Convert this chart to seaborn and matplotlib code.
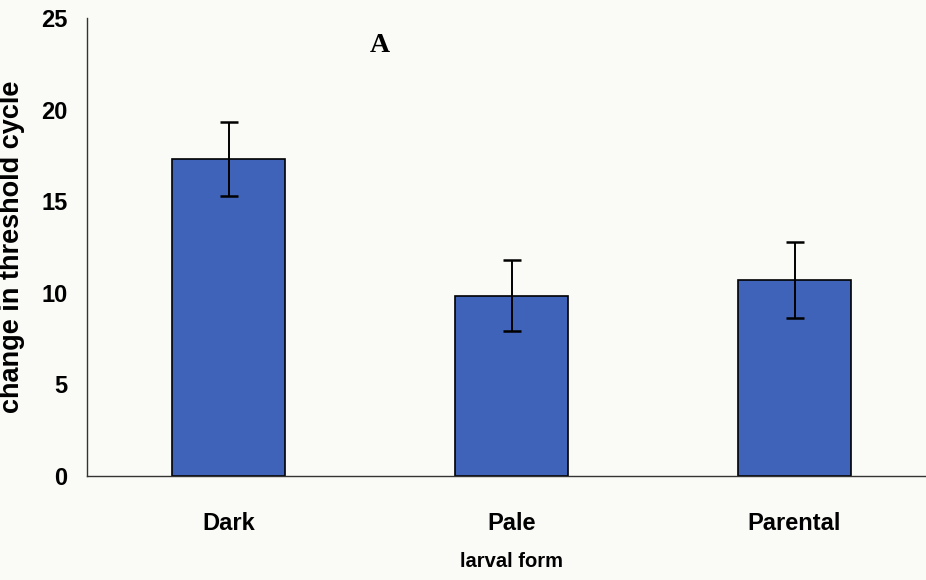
import matplotlib
matplotlib.use("Agg")
import matplotlib.pyplot as plt
import seaborn as sns
import pandas as pd

# Mean change in threshold cycle per larval form, with error bar half-widths
forms = ["Dark", "Pale", "Parental"]
means = [17.3, 9.85, 10.7]
errors = [2.0, 1.95, 2.05]
y_ticks = [0, 5, 10, 15, 20, 25]

sns.set_theme(style="white")
plt.rcParams["font.family"] = ["Liberation Sans", "DejaVu Sans"]
plt.rcParams["text.color"] = "black"
plt.rcParams["axes.labelcolor"] = "black"
plt.rcParams["xtick.color"] = "black"
plt.rcParams["ytick.color"] = "black"

bg = "#fafaf6"
bar_color = "#3f63b8"

fig = plt.figure(figsize=(9.26, 5.8), dpi=100, facecolor=bg)
ax = fig.add_axes([87 / 926, 104 / 580, 849 / 926, 458 / 580])
ax.set_facecolor(bg)

df = pd.DataFrame({"form": forms, "mean": means})
sns.barplot(data=df, x="form", y="mean", order=forms, color=bar_color,
            saturation=1, width=0.4, edgecolor="black", linewidth=1.2,
            errorbar=None, ax=ax)
ax.errorbar(range(len(forms)), means, yerr=errors, fmt="none",
            ecolor="black", elinewidth=1.4, capsize=6.5, capthick=1.8, zorder=5)

ax.set_xlim(-0.5, 2.5)
ax.set_ylim(0, 25)
ax.set_yticks(y_ticks)
ax.set_yticklabels([str(t) for t in y_ticks], fontsize=17, fontweight="bold")

# category labels centred under the bars, ticks on the category boundaries
ax.set_xticks([0.5, 1.5], minor=False)
ax.set_xticklabels([])
ax.set_xticks(range(len(forms)), minor=True)
ax.set_xticklabels(forms, minor=True, fontsize=17, fontweight="bold")
ax.tick_params(axis="x", which="major", direction="out", length=7, width=1, color="#333333")
ax.tick_params(axis="x", which="minor", length=0, pad=26)
ax.tick_params(axis="y", direction="out", length=6, width=1, color="#333333", pad=8)

for side in ("top", "right"):
    ax.spines[side].set_visible(False)
for side in ("left", "bottom"):
    ax.spines[side].set_color("#333333")
    ax.spines[side].set_linewidth(1.0)

ax.set_ylabel("change in threshold cycle", fontsize=19.5, fontweight="bold", labelpad=12)
ax.set_xlabel("larval form", fontsize=14.5, fontweight="bold", labelpad=12)

ax.text(0.535, 23.5, "A", fontsize=20, fontweight="bold",
        family=["Liberation Serif", "DejaVu Serif"], ha="center", va="center")

fig.savefig("out.png", dpi=100, facecolor=bg)
